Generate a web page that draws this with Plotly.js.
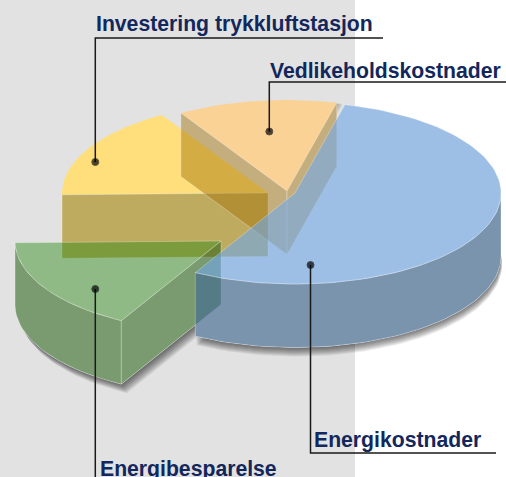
<!DOCTYPE html>
<html><head><meta charset="utf-8">
<script src="https://cdn.plot.ly/plotly-3.0.1.min.js"></script>
<style>html,body{margin:0;padding:0;background:#fff}</style></head>
<body><div id="chart" style="width:506px;height:477px"></div>
<script>
const categories = ["Energikostnader","Energibesparelse","Investering trykkluftstasjon","Vedlikeholdskostnader"];
const values = [54.15, 16.65, 16.7, 12.5];

// projection + explode settings
const startAngle = 14, rx = 206, ry = 91, depth = 63.5;
const centers = [[295,193],[221,241],[268,193],[287,191]];
const panelColor = "#e2e2e2";
const textColor = "#12275c";
const labelPos = [[314,447],[100,476],[96,31],[270,77]];
const leaderX = [[310.5,310.5,496],[95.3,95.3],[95.3,95.3,383],[269.3,269.3,506]];
const leaderY = [[265,453,453],[289,480],[162,38,38],[131.5,82,82]];

const total = values.reduce((a,b)=>a+b,0);
let acc = startAngle;
const slices = values.map((v,i)=>{const s=acc; acc+=v/total*360; return {s:s,e:acc,c:centers[i]};});
const pt=(sl,t,dy=0,dx=0)=>{const r=t*Math.PI/180;return [sl.c[0]+rx*Math.sin(r)+dx, sl.c[1]-ry*Math.cos(r)+dy];};
function arc(sl,a,b,dy=0,dx=0){const o=[];const n=Math.max(2,Math.ceil(Math.abs(b-a)/2));for(let i=0;i<=n;i++)o.push(pt(sl,a+(b-a)*i/n,dy,dx));return o;}
const sector=(sl,dy=0,dx=0)=>[[sl.c[0]+dx,sl.c[1]+dy],...arc(sl,sl.s,sl.e,dy,dx),[sl.c[0]+dx,sl.c[1]+dy]];
const outer=(sl,a,b)=>{const top=arc(sl,a,b),bot=arc(sl,b,a,depth);return [...top,...bot,top[0]];};
const cut=(sl,t)=>{const p=pt(sl,t),a=sl.c;return [[a[0],a[1]],p,[p[0],p[1]+depth],[a[0],a[1]+depth],[a[0],a[1]]];};

const traces=[];
function face(poly,fill,line){traces.push({type:"scatter",mode:"lines",x:poly.map(p=>p[0]),y:poly.map(p=>p[1]),fill:"toself",fillcolor:fill,
  line:{color:line||"rgba(0,0,0,0)",width:line?1:0},hoverinfo:"skip",showlegend:false});}

const [blue,green,yellow,orange]=slices;
const edge="rgba(255,255,255,0.28)";
// soft shadows
for(let k=1;k<=9;k++){face(sector(blue,depth+k,k*0.12),"rgba(0,0,0,0.07)");face(sector(green,depth+k,k*0.6),"rgba(0,0,0,0.075)");}
for(let k=1;k<=6;k++){face(sector(orange,k*0.3,k),"rgba(0,0,0,0.05)");}
// panel colour under the translucent bodies
[blue,green,orange].forEach(sl=>{face(sector(sl),panelColor);face(sector(sl,depth),panelColor);});
face(outer(blue,90,blue.e),panelColor);
face(outer(green,green.s,green.e),panelColor);
face(cut(green,green.s),panelColor);
face(cut(orange,orange.s),panelColor);face(cut(orange,orange.e),panelColor);

// yellow
face(sector(yellow),"rgba(255,223,120,0.97)");
face(cut(yellow,yellow.s),"rgba(182,157,63,0.8)",edge);
// orange
face(sector(orange),"rgba(252,210,148,0.97)");
face(cut(orange,orange.s),"rgba(162,111,2,0.45)",edge);
face(cut(orange,orange.e),"rgba(162,111,2,0.45)",edge);
// green
face(outer(green,green.s,green.e),"rgba(37,95,18,0.55)",edge);
face(cut(green,green.s),"rgba(37,95,18,0.55)",edge);
face(sector(green),"rgba(42,135,20,0.45)",edge);
// blue
face(outer(blue,90,blue.e),"rgba(66,106,146,0.65)",edge);
face(sector(blue),"rgba(111,169,233,0.6)",edge);

// leaders
leaderX.forEach((xs,i)=>{traces.push({type:"scatter",mode:"lines+markers",x:xs,y:leaderY[i],
  line:{color:"#1a1a1a",width:1.5},marker:{size:xs.map((_,j)=>j===0?7:0),color:"#000000"},hoverinfo:"skip",showlegend:false});});

const annotations=categories.map((c,i)=>({text:"<b>"+c+"</b>",x:labelPos[i][0],y:labelPos[i][1],xref:"x",yref:"y",xanchor:"left",yanchor:"bottom",
  showarrow:false,xshift:-1,yshift:-6,font:{family:"Liberation Sans, Arial, sans-serif",size:21.2,color:textColor},borderpad:0}));

Plotly.newPlot("chart",traces,{width:506,height:477,autosize:false,margin:{l:0,r:0,t:0,b:0,pad:0},
  paper_bgcolor:"#ffffff",plot_bgcolor:"#ffffff",showlegend:false,
  xaxis:{range:[0,506],visible:false,fixedrange:true},
  yaxis:{range:[477,0],visible:false,fixedrange:true},
  shapes:[{type:"rect",xref:"x",yref:"y",x0:0,x1:355,y0:0,y1:477,fillcolor:panelColor,line:{width:0},layer:"below"}],
  annotations:annotations},{displayModeBar:false,staticPlot:true});
</script></body></html>
